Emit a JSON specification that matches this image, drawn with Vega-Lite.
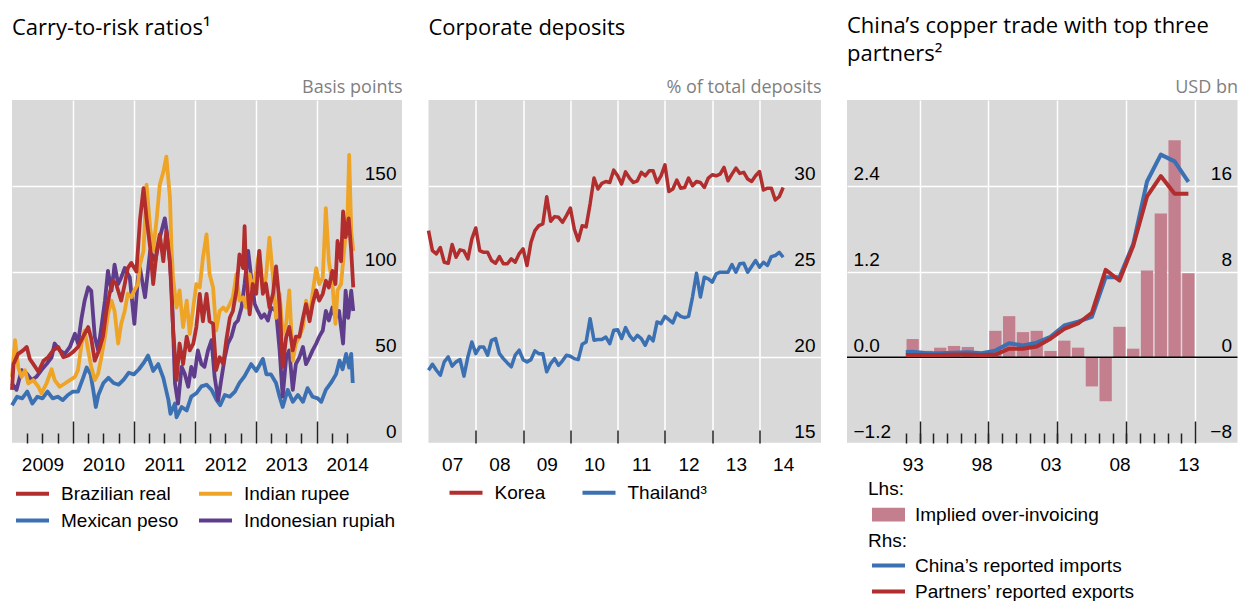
{
 "$schema": "https://vega.github.io/schema/vega-lite/v6.json",
 "padding": {"left": 10, "top": 15, "right": 0, "bottom": 0},
 "spacing": 24.5,
 "resolve": {"scale": {"color": "independent", "stroke": "independent"}, "legend": {"color": "independent", "stroke": "independent"}},
 "config": {
  "view": {"fill": "#d9d9d9", "stroke": null},
  "axis": {"domain": false, "labelFont": "Liberation Sans", "labelFontSize": 19, "labelColor": "black", "gridColor": "white", "gridWidth": 1.5, "gridOpacity": 1, "tickColor": "#222222", "tickWidth": 1.5, "titleFont": "Open Sans", "titleFontSize": 18, "titleFontWeight": "normal", "titleColor": "#7f7f7f", "labelFlush": false},
  "title": {"font": "Open Sans", "fontSize": 22, "fontWeight": "normal", "color": "black", "anchor": "start", "frame": "group", "lineHeight": 28},
  "legend": {"labelFont": "Liberation Sans", "labelFontSize": 19, "labelColor": "black", "titleFont": "Liberation Sans", "titleFontSize": 19, "titleFontWeight": "normal", "titleColor": "black", "labelLimit": 400, "symbolStrokeWidth": 4, "symbolSize": 121, "labelOffset": 30, "orient": "none"},
  "line": {"strokeJoin": "round"}
 },
 "datasets": {
  "mx": [{"t":2009.0,"v":22},{"t":2009.083,"v":27},{"t":2009.167,"v":26},{"t":2009.25,"v":30},{"t":2009.333,"v":23},{"t":2009.417,"v":27},{"t":2009.5,"v":26},{"t":2009.583,"v":30},{"t":2009.667,"v":26},{"t":2009.75,"v":27},{"t":2009.833,"v":25},{"t":2009.917,"v":28},{"t":2010.0,"v":30},{"t":2010.083,"v":30},{"t":2010.167,"v":38},{"t":2010.225,"v":44},{"t":2010.29,"v":40},{"t":2010.333,"v":31},{"t":2010.375,"v":21},{"t":2010.417,"v":28},{"t":2010.5,"v":35},{"t":2010.583,"v":38},{"t":2010.667,"v":35},{"t":2010.75,"v":34},{"t":2010.833,"v":37},{"t":2010.917,"v":41},{"t":2011.0,"v":40},{"t":2011.083,"v":43},{"t":2011.167,"v":47},{"t":2011.233,"v":51},{"t":2011.317,"v":42},{"t":2011.4,"v":46},{"t":2011.483,"v":38},{"t":2011.567,"v":25},{"t":2011.6,"v":17},{"t":2011.675,"v":23},{"t":2011.7,"v":15},{"t":2011.783,"v":21},{"t":2011.867,"v":19},{"t":2011.942,"v":27},{"t":2012.025,"v":29},{"t":2012.108,"v":33},{"t":2012.192,"v":34},{"t":2012.275,"v":31},{"t":2012.358,"v":25},{"t":2012.417,"v":22},{"t":2012.492,"v":28},{"t":2012.575,"v":27},{"t":2012.658,"v":30},{"t":2012.733,"v":35},{"t":2012.817,"v":39},{"t":2012.925,"v":46},{"t":2013.008,"v":42},{"t":2013.117,"v":49},{"t":2013.175,"v":40},{"t":2013.25,"v":40},{"t":2013.333,"v":35},{"t":2013.392,"v":27},{"t":2013.442,"v":21},{"t":2013.525,"v":31},{"t":2013.608,"v":24},{"t":2013.692,"v":28},{"t":2013.775,"v":24},{"t":2013.85,"v":32},{"t":2013.933,"v":27},{"t":2014.017,"v":26},{"t":2014.075,"v":24},{"t":2014.15,"v":31},{"t":2014.233,"v":35},{"t":2014.317,"v":40},{"t":2014.375,"v":48},{"t":2014.425,"v":43},{"t":2014.483,"v":52},{"t":2014.533,"v":44},{"t":2014.567,"v":52},{"t":2014.592,"v":35}],
  "id": [{"t":2009.0,"v":34.7},{"t":2009.075,"v":31},{"t":2009.158,"v":42.5},{"t":2009.242,"v":40.5},{"t":2009.325,"v":36.7},{"t":2009.4,"v":38.6},{"t":2009.483,"v":42.5},{"t":2009.567,"v":46},{"t":2009.65,"v":50},{"t":2009.7,"v":58},{"t":2009.783,"v":54},{"t":2009.867,"v":52},{"t":2009.95,"v":56},{"t":2010.033,"v":63.7},{"t":2010.083,"v":58},{"t":2010.142,"v":73},{"t":2010.192,"v":83},{"t":2010.25,"v":90.7},{"t":2010.3,"v":88.8},{"t":2010.358,"v":62},{"t":2010.413,"v":54},{"t":2010.467,"v":67.6},{"t":2010.525,"v":83},{"t":2010.575,"v":100.4},{"t":2010.633,"v":88.8},{"t":2010.683,"v":104},{"t":2010.742,"v":92.7},{"t":2010.792,"v":96.5},{"t":2010.85,"v":102},{"t":2010.933,"v":96.5},{"t":2011.008,"v":69.5},{"t":2011.067,"v":96.5},{"t":2011.1,"v":102},{"t":2011.183,"v":85},{"t":2011.267,"v":112},{"t":2011.35,"v":106},{"t":2011.425,"v":119.7},{"t":2011.508,"v":131},{"t":2011.567,"v":116},{"t":2011.617,"v":92.7},{"t":2011.675,"v":34.7},{"t":2011.725,"v":23},{"t":2011.783,"v":44.4},{"t":2011.833,"v":40.5},{"t":2011.892,"v":32.8},{"t":2011.942,"v":44.4},{"t":2011.992,"v":38.6},{"t":2012.05,"v":54},{"t":2012.108,"v":46},{"t":2012.158,"v":44.4},{"t":2012.217,"v":54},{"t":2012.275,"v":60},{"t":2012.325,"v":38.6},{"t":2012.383,"v":25},{"t":2012.433,"v":36.7},{"t":2012.492,"v":50},{"t":2012.542,"v":58},{"t":2012.6,"v":62},{"t":2012.658,"v":69.5},{"t":2012.708,"v":71.4},{"t":2012.767,"v":79},{"t":2012.817,"v":92.7},{"t":2012.875,"v":112},{"t":2012.925,"v":96.5},{"t":2012.983,"v":81},{"t":2013.033,"v":77},{"t":2013.092,"v":73},{"t":2013.142,"v":75},{"t":2013.2,"v":71.4},{"t":2013.25,"v":79},{"t":2013.333,"v":77},{"t":2013.392,"v":54},{"t":2013.442,"v":27},{"t":2013.5,"v":50},{"t":2013.55,"v":54},{"t":2013.608,"v":31},{"t":2013.658,"v":46},{"t":2013.717,"v":50},{"t":2013.775,"v":56},{"t":2013.825,"v":46},{"t":2013.883,"v":50},{"t":2013.933,"v":54},{"t":2013.992,"v":58},{"t":2014.042,"v":62},{"t":2014.1,"v":65.6},{"t":2014.15,"v":77},{"t":2014.2,"v":71.4},{"t":2014.258,"v":79},{"t":2014.308,"v":73},{"t":2014.367,"v":77},{"t":2014.433,"v":58},{"t":2014.475,"v":88.8},{"t":2014.517,"v":73},{"t":2014.567,"v":88.8},{"t":2014.6,"v":77}],
  "in": [{"t":2009.0,"v":38.6},{"t":2009.05,"v":60},{"t":2009.103,"v":44},{"t":2009.158,"v":38.6},{"t":2009.213,"v":42.5},{"t":2009.267,"v":34.7},{"t":2009.35,"v":36.7},{"t":2009.433,"v":32.8},{"t":2009.483,"v":29},{"t":2009.567,"v":34.7},{"t":2009.65,"v":43},{"t":2009.7,"v":36.7},{"t":2009.783,"v":32.8},{"t":2009.867,"v":34.7},{"t":2009.95,"v":36.7},{"t":2010.033,"v":38.6},{"t":2010.083,"v":42.5},{"t":2010.142,"v":58},{"t":2010.192,"v":65.6},{"t":2010.25,"v":54},{"t":2010.3,"v":44.4},{"t":2010.358,"v":36.7},{"t":2010.413,"v":40.5},{"t":2010.467,"v":50},{"t":2010.525,"v":62},{"t":2010.575,"v":75},{"t":2010.633,"v":83},{"t":2010.683,"v":77},{"t":2010.742,"v":58},{"t":2010.792,"v":69.5},{"t":2010.85,"v":77},{"t":2010.9,"v":87},{"t":2010.958,"v":85},{"t":2011.008,"v":89},{"t":2011.067,"v":92.7},{"t":2011.1,"v":104},{"t":2011.158,"v":112},{"t":2011.208,"v":150.6},{"t":2011.267,"v":125.5},{"t":2011.317,"v":112},{"t":2011.375,"v":131},{"t":2011.425,"v":150.6},{"t":2011.483,"v":158},{"t":2011.533,"v":167},{"t":2011.592,"v":143},{"t":2011.617,"v":114},{"t":2011.642,"v":96.5},{"t":2011.7,"v":79},{"t":2011.75,"v":89},{"t":2011.808,"v":67.6},{"t":2011.867,"v":83},{"t":2011.917,"v":63.7},{"t":2011.975,"v":79},{"t":2012.025,"v":92.7},{"t":2012.081,"v":90.7},{"t":2012.133,"v":108},{"t":2012.192,"v":121.6},{"t":2012.242,"v":98.5},{"t":2012.3,"v":90.7},{"t":2012.35,"v":65.6},{"t":2012.408,"v":77},{"t":2012.467,"v":79},{"t":2012.517,"v":77},{"t":2012.575,"v":81},{"t":2012.625,"v":85},{"t":2012.683,"v":98.5},{"t":2012.733,"v":83},{"t":2012.792,"v":85},{"t":2012.842,"v":79},{"t":2012.9,"v":98.5},{"t":2012.95,"v":89},{"t":2013.008,"v":100.4},{"t":2013.058,"v":112},{"t":2013.117,"v":89},{"t":2013.167,"v":96.5},{"t":2013.225,"v":119.7},{"t":2013.283,"v":96.5},{"t":2013.333,"v":73},{"t":2013.392,"v":87},{"t":2013.442,"v":63.7},{"t":2013.5,"v":69.5},{"t":2013.55,"v":89},{"t":2013.608,"v":48},{"t":2013.658,"v":58},{"t":2013.717,"v":62},{"t":2013.775,"v":67.6},{"t":2013.825,"v":83},{"t":2013.883,"v":73},{"t":2013.933,"v":87},{"t":2013.992,"v":102},{"t":2014.042,"v":92.7},{"t":2014.1,"v":96.5},{"t":2014.15,"v":137},{"t":2014.2,"v":106},{"t":2014.258,"v":92.7},{"t":2014.308,"v":69.5},{"t":2014.342,"v":89},{"t":2014.4,"v":92.7},{"t":2014.45,"v":112},{"t":2014.508,"v":135},{"t":2014.533,"v":168},{"t":2014.567,"v":123.6},{"t":2014.6,"v":112}],
  "br": [{"t":2009.0,"v":31},{"t":2009.025,"v":46},{"t":2009.1,"v":52},{"t":2009.183,"v":54},{"t":2009.242,"v":56},{"t":2009.292,"v":49},{"t":2009.35,"v":46},{"t":2009.433,"v":41.5},{"t":2009.517,"v":48},{"t":2009.592,"v":50},{"t":2009.675,"v":54},{"t":2009.758,"v":56},{"t":2009.842,"v":50},{"t":2009.925,"v":51},{"t":2010.0,"v":53},{"t":2010.083,"v":56},{"t":2010.167,"v":62},{"t":2010.25,"v":67.6},{"t":2010.3,"v":61},{"t":2010.358,"v":48},{"t":2010.417,"v":53},{"t":2010.492,"v":62},{"t":2010.55,"v":77},{"t":2010.6,"v":87},{"t":2010.658,"v":94.6},{"t":2010.708,"v":92.7},{"t":2010.792,"v":83},{"t":2010.85,"v":92.7},{"t":2010.9,"v":102},{"t":2010.958,"v":105},{"t":2011.042,"v":100},{"t":2011.1,"v":130},{"t":2011.158,"v":148.6},{"t":2011.208,"v":131},{"t":2011.267,"v":114},{"t":2011.317,"v":92.7},{"t":2011.375,"v":112},{"t":2011.425,"v":121.6},{"t":2011.483,"v":106},{"t":2011.533,"v":123.6},{"t":2011.592,"v":106},{"t":2011.642,"v":67.6},{"t":2011.7,"v":36.7},{"t":2011.75,"v":58},{"t":2011.808,"v":46},{"t":2011.867,"v":62},{"t":2011.917,"v":54},{"t":2011.975,"v":58},{"t":2012.025,"v":67.6},{"t":2012.081,"v":87},{"t":2012.133,"v":71},{"t":2012.192,"v":87},{"t":2012.242,"v":71},{"t":2012.3,"v":69.5},{"t":2012.35,"v":42.5},{"t":2012.408,"v":50},{"t":2012.467,"v":46},{"t":2012.517,"v":60},{"t":2012.575,"v":73},{"t":2012.625,"v":77},{"t":2012.683,"v":89},{"t":2012.733,"v":110},{"t":2012.792,"v":102},{"t":2012.817,"v":126.4},{"t":2012.842,"v":98.5},{"t":2012.9,"v":75},{"t":2012.95,"v":92.7},{"t":2013.008,"v":87},{"t":2013.058,"v":112},{"t":2013.117,"v":87},{"t":2013.167,"v":93},{"t":2013.225,"v":79},{"t":2013.283,"v":87},{"t":2013.333,"v":103},{"t":2013.392,"v":81},{"t":2013.442,"v":44.4},{"t":2013.5,"v":62},{"t":2013.55,"v":67.6},{"t":2013.608,"v":54},{"t":2013.658,"v":62},{"t":2013.717,"v":62},{"t":2013.775,"v":73},{"t":2013.825,"v":81},{"t":2013.883,"v":71},{"t":2013.933,"v":81},{"t":2013.992,"v":89},{"t":2014.042,"v":83},{"t":2014.1,"v":87},{"t":2014.15,"v":94.6},{"t":2014.2,"v":90.7},{"t":2014.258,"v":100.4},{"t":2014.308,"v":92.7},{"t":2014.342,"v":117.8},{"t":2014.4,"v":106},{"t":2014.433,"v":135},{"t":2014.475,"v":120},{"t":2014.525,"v":131},{"t":2014.567,"v":112},{"t":2014.6,"v":90.7}],
  "ko": [{"t":2007.0,"v":27.38},{"t":2007.083,"v":26.22},{"t":2007.167,"v":26.03},{"t":2007.25,"v":26.4},{"t":2007.333,"v":25.54},{"t":2007.417,"v":25.48},{"t":2007.5,"v":26.57},{"t":2007.583,"v":25.83},{"t":2007.667,"v":26.26},{"t":2007.75,"v":26.2},{"t":2007.833,"v":25.74},{"t":2007.917,"v":26.9},{"t":2008.0,"v":27.54},{"t":2008.083,"v":26.22},{"t":2008.167,"v":26.12},{"t":2008.25,"v":26.12},{"t":2008.333,"v":25.64},{"t":2008.417,"v":25.48},{"t":2008.5,"v":25.87},{"t":2008.583,"v":25.45},{"t":2008.667,"v":25.45},{"t":2008.75,"v":25.74},{"t":2008.833,"v":25.54},{"t":2008.917,"v":26.03},{"t":2009.0,"v":26.32},{"t":2009.083,"v":25.35},{"t":2009.167,"v":26.7},{"t":2009.25,"v":27.38},{"t":2009.333,"v":27.67},{"t":2009.417,"v":27.77},{"t":2009.5,"v":29.36},{"t":2009.583,"v":27.93},{"t":2009.667,"v":28.2},{"t":2009.75,"v":28.16},{"t":2009.833,"v":27.87},{"t":2009.917,"v":28.26},{"t":2010.0,"v":28.7},{"t":2010.083,"v":27.48},{"t":2010.167,"v":26.8},{"t":2010.25,"v":27.67},{"t":2010.333,"v":27.6},{"t":2010.417,"v":28.93},{"t":2010.5,"v":30.45},{"t":2010.583,"v":29.81},{"t":2010.667,"v":30.14},{"t":2010.75,"v":30.25},{"t":2010.833,"v":30.19},{"t":2010.917,"v":30.91},{"t":2011.0,"v":30.58},{"t":2011.083,"v":30.1},{"t":2011.167,"v":30.81},{"t":2011.25,"v":30.45},{"t":2011.333,"v":30.19},{"t":2011.417,"v":30.29},{"t":2011.5,"v":30.78},{"t":2011.583,"v":30.58},{"t":2011.667,"v":30.87},{"t":2011.75,"v":30.87},{"t":2011.833,"v":30.19},{"t":2011.917,"v":30.58},{"t":2012.0,"v":31.22},{"t":2012.083,"v":29.67},{"t":2012.167,"v":29.81},{"t":2012.25,"v":30.33},{"t":2012.333,"v":29.86},{"t":2012.417,"v":29.9},{"t":2012.5,"v":30.45},{"t":2012.583,"v":30.0},{"t":2012.667,"v":30.25},{"t":2012.75,"v":30.19},{"t":2012.833,"v":29.9},{"t":2012.917,"v":30.45},{"t":2013.0,"v":30.64},{"t":2013.083,"v":30.58},{"t":2013.167,"v":30.68},{"t":2013.25,"v":31.07},{"t":2013.333,"v":30.29},{"t":2013.417,"v":30.68},{"t":2013.5,"v":31.03},{"t":2013.583,"v":30.72},{"t":2013.667,"v":30.78},{"t":2013.75,"v":30.39},{"t":2013.833,"v":30.25},{"t":2013.917,"v":30.58},{"t":2014.0,"v":30.83},{"t":2014.083,"v":29.75},{"t":2014.167,"v":29.86},{"t":2014.25,"v":29.86},{"t":2014.333,"v":29.17},{"t":2014.417,"v":29.36},{"t":2014.5,"v":29.9}],
  "th": [{"t":2007.0,"v":19.24},{"t":2007.083,"v":19.59},{"t":2007.167,"v":19.24},{"t":2007.25,"v":18.95},{"t":2007.333,"v":19.73},{"t":2007.417,"v":20.02},{"t":2007.5,"v":19.48},{"t":2007.583,"v":19.73},{"t":2007.667,"v":19.86},{"t":2007.75,"v":18.9},{"t":2007.833,"v":20.02},{"t":2007.917,"v":20.89},{"t":2008.0,"v":20.21},{"t":2008.083,"v":20.6},{"t":2008.167,"v":20.6},{"t":2008.25,"v":20.12},{"t":2008.333,"v":20.99},{"t":2008.417,"v":21.09},{"t":2008.5,"v":20.21},{"t":2008.583,"v":19.92},{"t":2008.667,"v":19.67},{"t":2008.75,"v":19.44},{"t":2008.833,"v":20.12},{"t":2008.917,"v":20.41},{"t":2009.0,"v":19.86},{"t":2009.083,"v":19.73},{"t":2009.167,"v":19.86},{"t":2009.25,"v":20.37},{"t":2009.333,"v":20.21},{"t":2009.417,"v":20.21},{"t":2009.5,"v":19.15},{"t":2009.583,"v":19.63},{"t":2009.667,"v":19.92},{"t":2009.75,"v":19.53},{"t":2009.833,"v":19.79},{"t":2009.917,"v":20.12},{"t":2010.0,"v":20.06},{"t":2010.083,"v":19.92},{"t":2010.167,"v":19.86},{"t":2010.25,"v":20.76},{"t":2010.333,"v":20.89},{"t":2010.417,"v":22.25},{"t":2010.5,"v":20.99},{"t":2010.583,"v":21.03},{"t":2010.667,"v":21.03},{"t":2010.75,"v":21.18},{"t":2010.833,"v":20.79},{"t":2010.917,"v":21.57},{"t":2011.0,"v":21.61},{"t":2011.083,"v":21.09},{"t":2011.167,"v":21.73},{"t":2011.25,"v":21.28},{"t":2011.333,"v":20.99},{"t":2011.417,"v":21.28},{"t":2011.5,"v":21.09},{"t":2011.583,"v":20.7},{"t":2011.667,"v":21.22},{"t":2011.75,"v":20.95},{"t":2011.833,"v":22.06},{"t":2011.917,"v":21.96},{"t":2012.0,"v":22.38},{"t":2012.083,"v":22.19},{"t":2012.167,"v":22.0},{"t":2012.25,"v":22.58},{"t":2012.333,"v":22.38},{"t":2012.417,"v":22.31},{"t":2012.5,"v":22.38},{"t":2012.583,"v":23.51},{"t":2012.667,"v":24.9},{"t":2012.75,"v":23.51},{"t":2012.833,"v":24.67},{"t":2012.917,"v":24.57},{"t":2013.0,"v":24.38},{"t":2013.083,"v":24.86},{"t":2013.167,"v":24.96},{"t":2013.25,"v":24.96},{"t":2013.333,"v":24.96},{"t":2013.417,"v":25.41},{"t":2013.5,"v":24.96},{"t":2013.583,"v":25.45},{"t":2013.667,"v":25.48},{"t":2013.75,"v":24.96},{"t":2013.833,"v":25.29},{"t":2013.917,"v":25.64},{"t":2014.0,"v":25.25},{"t":2014.083,"v":25.54},{"t":2014.167,"v":25.35},{"t":2014.25,"v":25.87},{"t":2014.333,"v":25.93},{"t":2014.417,"v":26.12},{"t":2014.5,"v":25.83}],
  "bars": [{"t":1993.5,"v":0.255},{"t":1994.5,"v":0.09},{"t":1995.5,"v":0.134},{"t":1996.5,"v":0.158},{"t":1997.5,"v":0.144},{"t":1998.5,"v":0.02},{"t":1999.5,"v":0.37},{"t":2000.5,"v":0.575},{"t":2001.5,"v":0.352},{"t":2002.5,"v":0.37},{"t":2003.5,"v":0.088},{"t":2004.5,"v":0.232},{"t":2005.5,"v":0.134},{"t":2006.5,"v":-0.408},{"t":2007.5,"v":-0.616},{"t":2008.5,"v":0.426},{"t":2009.5,"v":0.12},{"t":2010.5,"v":1.214},{"t":2011.5,"v":2.01},{"t":2012.5,"v":3.035},{"t":2013.5,"v":1.177}],
  "imp": [{"t":1993.0,"v":0.5},{"t":1993.5,"v":0.52},{"t":1994.5,"v":0.37},{"t":1995.5,"v":0.37},{"t":1996.5,"v":0.43},{"t":1997.5,"v":0.46},{"t":1998.5,"v":0.37},{"t":1999.5,"v":0.62},{"t":2000.5,"v":1.3},{"t":2001.5,"v":1.1},{"t":2002.5,"v":1.36},{"t":2003.5,"v":1.9},{"t":2004.5,"v":2.96},{"t":2005.5,"v":3.33},{"t":2006.5,"v":3.77},{"t":2007.5,"v":7.47},{"t":2008.5,"v":7.47},{"t":2009.5,"v":10.56},{"t":2010.5,"v":16.4},{"t":2011.5,"v":18.9},{"t":2012.5,"v":18.27},{"t":2013.5,"v":16.36}],
  "exp": [{"t":1993.0,"v":0.2},{"t":1993.5,"v":0.2},{"t":1994.5,"v":0.2},{"t":1995.5,"v":0.22},{"t":1996.5,"v":0.25},{"t":1997.5,"v":0.25},{"t":1998.5,"v":0.2},{"t":1999.5,"v":0.25},{"t":2000.5,"v":0.8},{"t":2001.5,"v":0.8},{"t":2002.5,"v":1.0},{"t":2003.5,"v":1.73},{"t":2004.5,"v":2.65},{"t":2005.5,"v":3.15},{"t":2006.5,"v":4.14},{"t":2007.5,"v":8.15},{"t":2008.5,"v":7.16},{"t":2009.5,"v":10.4},{"t":2010.5,"v":15.0},{"t":2011.5,"v":16.9},{"t":2012.5,"v":15.25},{"t":2013.5,"v":15.25}]
 },
 "hconcat": [
  {
   "width": 390, "height": 343,
   "title": {"text": "Carry-to-risk ratios¹", "offset": 38},
   "layer": [
    {"data": {"name": "mx"}, "mark": {"type": "line", "strokeWidth": 3.8},
     "encoding": {
      "x": {"field": "t", "type": "quantitative", "scale": {"domain": [2009, 2015.4], "nice": false, "zero": false},
            "axis": {"orient": "bottom", "values": [2010, 2011, 2012, 2013, 2014], "grid": true, "labels": false, "ticks": true, "tickSize": -22, "title": null}},
      "y": {"field": "v", "type": "quantitative", "scale": {"domain": [0, 200], "nice": false},
            "axis": {"orient": "right", "values": [0, 50, 100, 150], "grid": true, "ticks": false, "tickSize": 0, "labelAlign": "right", "labelBaseline": "alphabetic", "labelPadding": -6, "labelOffset": -6, "title": "Basis points", "titleAngle": 0, "titleX": 0, "titleY": -8, "titleAlign": "right", "titleBaseline": "alphabetic"}},
      "color": {"datum": "Mexican peso", "type": "nominal",
                "scale": {"domain": ["Brazilian real", "Mexican peso", "Indian rupee", "Indonesian rupiah"], "range": ["#b22d2d", "#3b70b2", "#eea427", "#5f3c8c"]},
                "legend": {"orient": "none", "legendX": 0, "legendY": 384, "columns": 2, "title": null, "symbolType": "M-1,0H5", "columnPadding": 16, "rowPadding": 7}}
     }},
    {"data": {"name": "id"}, "mark": {"type": "line", "strokeWidth": 3.8},
     "encoding": {
      "x": {"field": "t", "type": "quantitative", "scale": {"domain": [2009, 2015.4], "nice": false, "zero": false},
            "axis": {"orient": "bottom", "values": [2009.25, 2009.5, 2009.75, 2010.25, 2010.5, 2010.75, 2011.25, 2011.5, 2011.75, 2012.25, 2012.5, 2012.75, 2013.25, 2013.5, 2013.75, 2014.25, 2014.5], "grid": false, "labels": false, "ticks": true, "tickSize": -10, "title": null}},
      "y": {"field": "v", "type": "quantitative", "scale": {"domain": [0, 200], "nice": false}, "axis": null},
      "color": {"datum": "Indonesian rupiah", "type": "nominal",
                "scale": {"domain": ["Brazilian real", "Mexican peso", "Indian rupee", "Indonesian rupiah"], "range": ["#b22d2d", "#3b70b2", "#eea427", "#5f3c8c"]}}
     }},
    {"data": {"name": "in"}, "mark": {"type": "line", "strokeWidth": 3.8},
     "encoding": {
      "x": {"field": "t", "type": "quantitative", "scale": {"domain": [2009, 2015.4], "nice": false, "zero": false},
            "axis": {"orient": "bottom", "values": [2009.5, 2010.5, 2011.5, 2012.5, 2013.5, 2014.5], "grid": false, "ticks": false, "tickSize": 0, "labelPadding": 12, "labelExpr": "toString(floor(datum.value))", "title": null}},
      "y": {"field": "v", "type": "quantitative", "scale": {"domain": [0, 200], "nice": false}, "axis": null},
      "color": {"datum": "Indian rupee", "type": "nominal",
                "scale": {"domain": ["Brazilian real", "Mexican peso", "Indian rupee", "Indonesian rupiah"], "range": ["#b22d2d", "#3b70b2", "#eea427", "#5f3c8c"]}}
     }},
    {"data": {"name": "br"}, "mark": {"type": "line", "strokeWidth": 3.8},
     "encoding": {
      "x": {"field": "t", "type": "quantitative", "scale": {"domain": [2009, 2015.4], "nice": false, "zero": false}, "axis": null},
      "y": {"field": "v", "type": "quantitative", "scale": {"domain": [0, 200], "nice": false}, "axis": null},
      "color": {"datum": "Brazilian real", "type": "nominal",
                "scale": {"domain": ["Brazilian real", "Mexican peso", "Indian rupee", "Indonesian rupiah"], "range": ["#b22d2d", "#3b70b2", "#eea427", "#5f3c8c"]}}
     }}
   ],
   "resolve": {"scale": {"y": "independent"}, "axis": {"x": "independent"}}
  },
  {
   "width": 392.5, "height": 343,
   "title": {"text": "Corporate deposits", "offset": 38},
   "layer": [
    {"data": {"name": "ko"}, "mark": {"type": "line", "strokeWidth": 3.5},
     "encoding": {
      "x": {"field": "t", "type": "quantitative", "scale": {"domain": [2007, 2015.3], "nice": false, "zero": false},
            "axis": {"orient": "bottom", "values": [2008, 2009, 2010, 2011, 2012, 2013, 2014], "grid": true, "labels": false, "ticks": true, "tickSize": -13, "title": null}},
      "y": {"field": "v", "type": "quantitative", "scale": {"domain": [15, 35], "nice": false, "zero": false},
            "axis": {"orient": "right", "values": [15, 20, 25, 30], "grid": true, "ticks": false, "tickSize": 0, "labelAlign": "right", "labelBaseline": "alphabetic", "labelPadding": -6, "labelOffset": -6, "title": "% of total deposits", "titleAngle": 0, "titleX": 0, "titleY": -8, "titleAlign": "right", "titleBaseline": "alphabetic"}},
      "color": {"datum": "Korea", "type": "nominal",
                "scale": {"domain": ["Korea", "Thailand³"], "range": ["#b22d2d", "#3b70b2"]},
                "legend": {"orient": "none", "legendX": 17, "legendY": 383, "columns": 2, "title": null, "symbolType": "M-1,0H5", "columnPadding": 33}}
     }},
    {"data": {"name": "th"}, "mark": {"type": "line", "strokeWidth": 3.5},
     "encoding": {
      "x": {"field": "t", "type": "quantitative", "scale": {"domain": [2007, 2015.3], "nice": false, "zero": false},
            "axis": {"orient": "bottom", "values": [2007.5, 2008.5, 2009.5, 2010.5, 2011.5, 2012.5, 2013.5, 2014.5], "grid": false, "ticks": false, "tickSize": 0, "labelPadding": 12, "labelExpr": "substring(toString(floor(datum.value)), 2, 4)", "title": null}},
      "y": {"field": "v", "type": "quantitative", "scale": {"domain": [15, 35], "nice": false, "zero": false}, "axis": null},
      "color": {"datum": "Thailand³", "type": "nominal",
                "scale": {"domain": ["Korea", "Thailand³"], "range": ["#b22d2d", "#3b70b2"]}}
     }}
   ],
   "resolve": {"scale": {"y": "independent"}, "axis": {"x": "independent"}}
  },
  {
   "width": 390.5, "height": 343,
   "title": {"text": ["China’s copper trade with top three", "partners²"], "offset": 12},
   "layer": [
    {"data": {"name": "bars"}, "mark": {"type": "bar", "width": 12.3},
     "encoding": {
      "x": {"field": "t", "type": "quantitative", "scale": {"domain": [1989.1, 2016.7], "nice": false, "zero": false},
            "axis": {"orient": "bottom", "values": [1994, 1999, 2004, 2009, 2014], "grid": true, "labels": false, "ticks": true, "tickSize": -22, "title": null}},
      "y": {"field": "v", "type": "quantitative", "scale": {"domain": [-1.2, 3.6], "nice": false},
            "axis": {"orient": "left", "values": [-1.2, 0, 1.2, 2.4], "format": ".1f", "grid": true, "ticks": false, "tickSize": 0, "labelAlign": "left", "labelBaseline": "alphabetic", "labelPadding": -6, "labelOffset": -6, "title": null}},
      "color": {"datum": "Implied over-invoicing", "type": "nominal",
                "scale": {"domain": ["Implied over-invoicing"], "range": ["#c47f8e"]},
                "legend": {"orient": "none", "legendX": 21, "legendY": 380, "title": "Lhs:", "titlePadding": 6, "labelOffset": 28, "symbolType": "M-1,-1.25H5V1.25H-1Z"}}
     }},
    {"data": {"values": [{}]}, "mark": {"type": "rule", "color": "black", "strokeWidth": 1.5},
     "encoding": {"y": {"datum": 0, "type": "quantitative", "scale": {"domain": [-1.2, 3.6], "nice": false}, "axis": null}}},
    {"data": {"name": "imp"}, "mark": {"type": "line", "strokeWidth": 4},
     "encoding": {
      "x": {"field": "t", "type": "quantitative", "scale": {"domain": [1989.1, 2016.7], "nice": false, "zero": false},
            "axis": {"orient": "bottom", "values": [1993, 1994, 1995, 1996, 1997, 1998, 1999, 2000, 2001, 2002, 2003, 2004, 2005, 2006, 2007, 2008, 2009, 2010, 2011, 2012, 2013], "grid": false, "labels": false, "ticks": true, "tickSize": -10, "title": null}},
      "y": {"field": "v", "type": "quantitative", "scale": {"domain": [-8, 24], "nice": false},
            "axis": {"orient": "right", "values": [-8, 0, 8, 16], "format": "d", "grid": false, "ticks": false, "tickSize": 0, "labelAlign": "right", "labelBaseline": "alphabetic", "labelPadding": -6, "labelOffset": -6, "title": "USD bn", "titleAngle": 0, "titleX": 0, "titleY": -8, "titleAlign": "right", "titleBaseline": "alphabetic"}},
      "stroke": {"datum": "China’s reported imports", "type": "nominal",
                 "scale": {"domain": ["China’s reported imports", "Partners’ reported exports"], "range": ["#3b70b2", "#b22d2d"]},
                 "legend": {"orient": "none", "legendX": 21, "legendY": 432, "title": "Rhs:", "titlePadding": 5, "rowPadding": 6, "labelOffset": 28, "symbolType": "M-1,0H5"}}
     }},
    {"data": {"name": "exp"}, "mark": {"type": "line", "strokeWidth": 4},
     "encoding": {
      "x": {"field": "t", "type": "quantitative", "scale": {"domain": [1989.1, 2016.7], "nice": false, "zero": false},
            "axis": {"orient": "bottom", "values": [1993.5, 1998.5, 2003.5, 2008.5, 2013.5], "grid": false, "ticks": false, "tickSize": 0, "labelPadding": 12, "labelExpr": "substring(toString(floor(datum.value)), 2, 4)", "title": null}},
      "y": {"field": "v", "type": "quantitative", "scale": {"domain": [-8, 24], "nice": false}, "axis": null},
      "stroke": {"datum": "Partners’ reported exports", "type": "nominal",
                 "scale": {"domain": ["China’s reported imports", "Partners’ reported exports"], "range": ["#3b70b2", "#b22d2d"]}}
     }}
   ],
   "resolve": {"scale": {"y": "independent"}, "axis": {"x": "independent"}}
  }
 ]
}
